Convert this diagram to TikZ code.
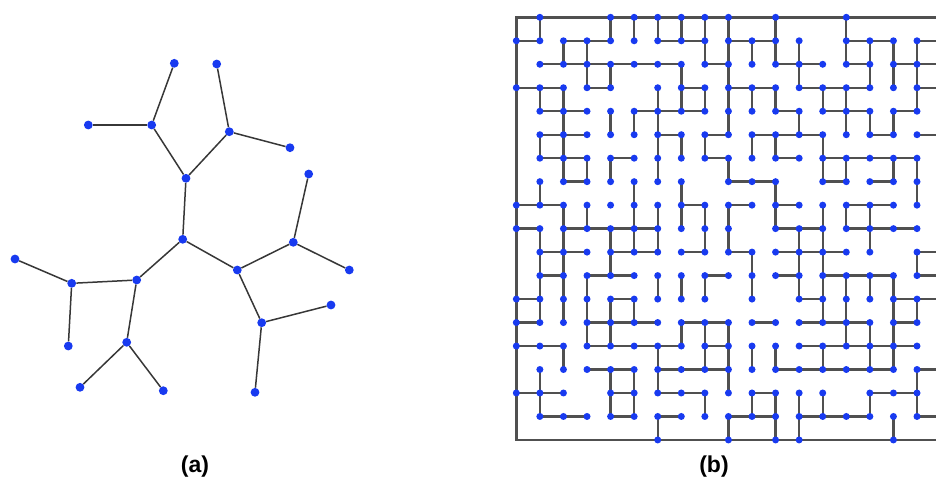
\documentclass[tikz,border=0pt]{standalone}
\usepackage{fontspec}
\setmainfont{Liberation Sans}
\definecolor{dotblue}{RGB}{24,58,240}
\definecolor{edgegray}{RGB}{55,55,55}
\definecolor{mazegray}{RGB}{80,80,80}
\begin{document}
\begin{tikzpicture}[x=1pt,y=-1pt,
  dota/.style={circle,fill=dotblue,inner sep=0pt,minimum size=8.8pt},
  dotb/.style={circle,fill=dotblue,inner sep=0pt,minimum size=7pt},
  edgea/.style={draw=edgegray,line width=1.5pt},
  edgeb/.style={draw=mazegray,line width=2.4pt},
  lbl/.style={font=\fontsize{23}{26}\selectfont\bfseries,inner sep=0pt}]
\useasboundingbox (0,0) rectangle (936,483);

% ---------- (a) tree ----------
\node[dota] (a1) at (174.3,63.3) {};
\node[dota] (a2) at (216.7,64) {};
\node[dota] (a3) at (88.3,125) {};
\node[dota] (a4) at (151.7,125) {};
\node[dota] (a5) at (229.3,131.7) {};
\node[dota] (a6) at (290,147.7) {};
\node[dota] (a7) at (186,178.3) {};
\node[dota] (a8) at (308.7,174) {};
\node[dota] (a9) at (182.7,239.3) {};
\node[dota] (a10) at (293.3,242.3) {};
\node[dota] (a11) at (15,259) {};
\node[dota] (a12) at (349.3,270) {};
\node[dota] (a13) at (237.3,270) {};
\node[dota] (a14) at (71.7,283.3) {};
\node[dota] (a15) at (136.7,280) {};
\node[dota] (a16) at (331,305) {};
\node[dota] (a17) at (261.7,322.7) {};
\node[dota] (a18) at (126.7,342.3) {};
\node[dota] (a19) at (68.3,346) {};
\node[dota] (a20) at (80,387.3) {};
\node[dota] (a21) at (163.3,390.7) {};
\node[dota] (a22) at (255,392.3) {};
\foreach \u/\v in {1/4,3/4,4/7,2/5,5/6,5/7,7/9,9/15,9/13,13/10,10/8,10/12,13/17,17/16,17/22,15/14,14/11,14/19,15/18,18/20,18/21}
  \draw[edgea] (a\u) -- (a\v);

% ---------- (b) maze ----------
\foreach \c in {0,...,18}
  \foreach \r in {0,...,18}
    \coordinate (g-\c-\r) at ({516.3+23.57*\c},{17.3+23.48*\r});

% frame
\draw[edgeb] (g-18-0) -- (g-0-0) -- (g-0-18) -- (g-18-18);

% horizontal edges: row/from/to
\foreach \r/\a/\b in {
  1/0/1, 1/2/4, 1/6/8, 1/9/11, 1/14/16, 1/17/18,
  2/1/7, 2/8/9, 2/11/13, 2/14/15, 2/16/18,
  3/0/2, 3/3/4, 3/7/8, 3/9/11, 3/12/15, 3/17/18,
  4/1/3, 4/5/8, 4/11/12, 4/13/15, 4/16/17,
  5/1/3, 5/6/7, 5/8/9, 5/10/13, 5/15/16, 5/17/18,
  6/1/3, 6/4/5, 6/8/9, 6/11/12, 6/13/17,
  7/2/3, 7/9/11, 7/13/14, 7/15/16,
  8/0/2, 8/7/8, 8/9/10, 8/11/12, 8/14/16,
  9/0/1, 9/2/6, 9/11/13, 9/14/17,
  10/1/3, 10/4/6, 10/7/8, 10/9/10, 10/11/14, 10/17/18,
  11/1/2, 11/3/5, 11/8/9, 11/11/12, 11/13/16, 11/17/18,
  12/0/1, 12/4/5, 12/12/13, 12/16/18,
  13/0/1, 13/3/6, 13/7/9, 13/10/11, 13/12/15, 13/16/17,
  14/0/2, 14/3/7, 14/8/9, 14/12/17,
  15/3/5, 15/6/9, 15/11/16, 15/17/18,
  16/0/2, 16/4/5, 16/6/8, 16/10/11, 16/15/17,
  17/1/3, 17/4/5, 17/6/7, 17/9/11, 17/12/15, 17/17/18}
  \draw[edgeb] (g-\a-\r) -- (g-\b-\r);

% vertical edges: column/from/to
\foreach \c/\a/\b in {
  1/0/1, 1/3/4, 1/5/6, 1/7/8, 1/9/13, 1/15/17,
  2/1/2, 2/3/7, 2/8/13, 2/14/15,
  3/1/3, 3/6/7, 3/8/9, 3/11/14,
  4/0/1, 4/2/3, 4/4/5, 4/6/7, 4/9/11, 4/12/14, 4/15/17,
  5/0/1, 5/4/5, 5/7/10, 5/12/13, 5/15/17,
  6/0/1, 6/3/7, 6/8/10, 6/11/12, 6/14/16, 6/17/18,
  7/0/1, 7/2/4, 7/5/6, 7/7/9, 7/11/12, 7/13/14,
  8/0/2, 8/3/4, 8/5/6, 8/8/10, 8/11/12, 8/13/15, 8/16/17,
  9/0/5, 9/6/7, 9/8/10, 9/13/16, 9/17/18,
  10/1/2, 10/3/4, 10/5/6, 10/10/12, 10/14/15, 10/16/17,
  11/0/2, 11/3/4, 11/5/6, 11/7/9, 11/14/15, 11/16/18,
  12/1/3, 12/4/5, 12/9/12, 12/16/18,
  13/3/4, 13/5/7, 13/8/13, 13/14/15, 13/16/17,
  14/0/2, 14/3/5, 14/6/7, 14/8/9, 14/11/14,
  15/1/3, 15/4/5, 15/8/10, 15/11/12, 15/13/15, 15/16/17,
  16/1/3, 16/4/5, 16/6/7, 16/11/15, 16/17/18,
  17/1/4, 17/6/8, 17/10/11, 17/12/13, 17/15/17}
  \draw[edgeb] (g-\c-\a) -- (g-\c-\b);

% vertices
\foreach \r/\cols in {
  0/{1,4,5,6,7,8,9,11,14},
  1/{0,1,2,3,4,5,6,7,8,9,10,11,12,14,15,16,17},
  2/{1,...,17},
  3/{0,1,2,3,4,6,7,8,9,10,11,12,13,14,15,16,17},
  4/{1,...,17},
  5/{1,...,17},
  6/{1,...,17},
  7/{1,2,3,4,5,6,7,9,10,11,13,14,15,16,17},
  8/{0,...,17},
  9/{0,1,2,3,4,5,6,7,8,9,11,12,13,14,15,16,17},
  10/{1,2,3,4,5,6,7,8,9,10,11,12,13,14,15,17},
  11/{1,...,17},
  12/{0,1,2,3,4,5,6,7,8,10,12,13,14,15,16,17},
  13/{0,...,17},
  14/{0,...,17},
  15/{1,...,17},
  16/{0,1,2,4,5,6,7,8,9,10,11,12,13,15,16,17},
  17/{1,...,17},
  18/{6,9,11,12,16}}
  {\foreach \c in \cols {\node[dotb] (d-\c-\r) at (g-\c-\r) {};}}

% ---------- labels ----------
\node[lbl] (la) at (195,467) {(a)};
\node[lbl] (lb) at (714,467) {(b)};
\end{tikzpicture}
\end{document}
